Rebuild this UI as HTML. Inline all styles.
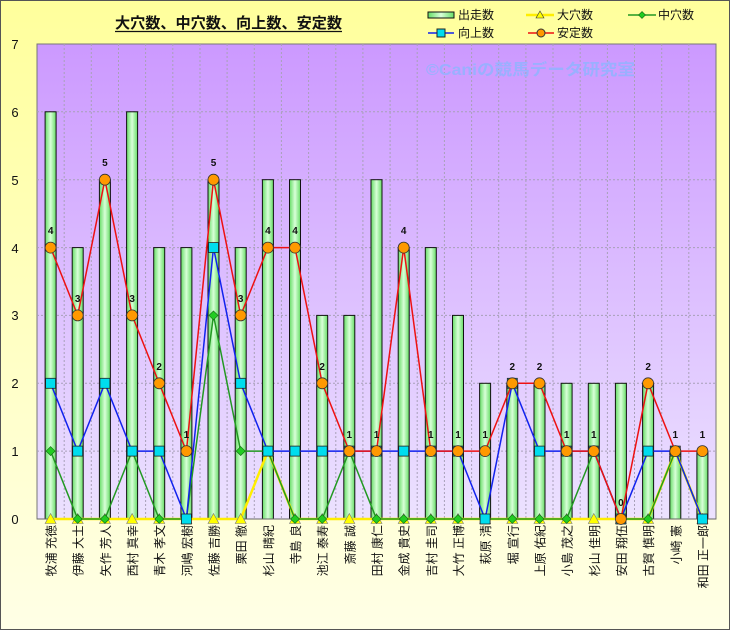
<!DOCTYPE html>
<html><head><meta charset="utf-8">
<style>
html,body{margin:0;padding:0;background:#fff}
svg{display:block;font-family:"Liberation Sans","Noto Sans CJK JP",sans-serif}
</style></head><body>
<svg width="730" height="630" viewBox="0 0 730 630" xmlns="http://www.w3.org/2000/svg">
<defs>
<linearGradient id="bg" x1="0" y1="0" x2="0" y2="1"><stop offset="0" stop-color="#ffff9c"/><stop offset="1" stop-color="#ffffe6"/></linearGradient>
<linearGradient id="pa" x1="0" y1="0" x2="0" y2="1"><stop offset="0" stop-color="#cc99ff"/><stop offset="1" stop-color="#ece2ff"/></linearGradient>
<linearGradient id="bar" x1="0" y1="0" x2="1" y2="0"><stop offset="0" stop-color="#66dd66"/><stop offset="0.5" stop-color="#d8ffd8"/><stop offset="1" stop-color="#66dd66"/></linearGradient>
<marker id="mt" markerUnits="userSpaceOnUse" markerWidth="14" markerHeight="14" refX="7" refY="7" overflow="visible"><path d="M7,1.5 L12.5,11.5 L1.5,11.5Z" fill="#ffff00" stroke="#777" stroke-width="0.6"/></marker>
<marker id="md" markerUnits="userSpaceOnUse" markerWidth="14" markerHeight="14" refX="7" refY="7" overflow="visible"><path d="M7,2.5 L11.5,7 L7,11.5 L2.5,7Z" fill="#22cc22" stroke="#116611" stroke-width="0.6"/></marker>
<marker id="ms" markerUnits="userSpaceOnUse" markerWidth="14" markerHeight="14" refX="7" refY="7" overflow="visible"><rect x="2" y="2" width="10" height="10" fill="#00ddee" stroke="#222" stroke-width="0.8"/></marker>
<marker id="mc" markerUnits="userSpaceOnUse" markerWidth="14" markerHeight="14" refX="7" refY="7" overflow="visible"><circle cx="7" cy="7" r="5.5" fill="#ff9900" stroke="#333" stroke-width="0.8"/></marker>
</defs>
<rect x="0.5" y="0.5" width="729" height="629" fill="url(#bg)" stroke="#555"/>
<rect x="37" y="44" width="679" height="475" fill="url(#pa)" stroke="#777"/>
<g stroke="#a8a0b8" stroke-width="1" stroke-dasharray="2,2">
<line x1="64.2" y1="44" x2="64.2" y2="519"/><line x1="91.3" y1="44" x2="91.3" y2="519"/><line x1="118.5" y1="44" x2="118.5" y2="519"/><line x1="145.6" y1="44" x2="145.6" y2="519"/><line x1="172.8" y1="44" x2="172.8" y2="519"/><line x1="200" y1="44" x2="200" y2="519"/><line x1="227.1" y1="44" x2="227.1" y2="519"/><line x1="254.3" y1="44" x2="254.3" y2="519"/><line x1="281.4" y1="44" x2="281.4" y2="519"/><line x1="308.6" y1="44" x2="308.6" y2="519"/><line x1="335.8" y1="44" x2="335.8" y2="519"/><line x1="362.9" y1="44" x2="362.9" y2="519"/><line x1="390.1" y1="44" x2="390.1" y2="519"/><line x1="417.2" y1="44" x2="417.2" y2="519"/><line x1="444.4" y1="44" x2="444.4" y2="519"/><line x1="471.6" y1="44" x2="471.6" y2="519"/><line x1="498.7" y1="44" x2="498.7" y2="519"/><line x1="525.9" y1="44" x2="525.9" y2="519"/><line x1="553" y1="44" x2="553" y2="519"/><line x1="580.2" y1="44" x2="580.2" y2="519"/><line x1="607.4" y1="44" x2="607.4" y2="519"/><line x1="634.5" y1="44" x2="634.5" y2="519"/><line x1="661.7" y1="44" x2="661.7" y2="519"/><line x1="688.8" y1="44" x2="688.8" y2="519"/>
<line x1="37" y1="111.8" x2="716" y2="111.8"/><line x1="37" y1="179.7" x2="716" y2="179.7"/><line x1="37" y1="247.6" x2="716" y2="247.6"/><line x1="37" y1="315.4" x2="716" y2="315.4"/><line x1="37" y1="383.3" x2="716" y2="383.3"/><line x1="37" y1="451.1" x2="716" y2="451.1"/>
</g>
<text x="426" y="75" font-size="16" font-weight="bold" fill="#9ab0ff" textLength="209" lengthAdjust="spacingAndGlyphs">©Caniの競馬データ研究室</text>
<g fill="url(#bar)" stroke="#111" stroke-width="1">
<rect x="45.1" y="111.8" width="11" height="407.2"/><rect x="72.2" y="247.6" width="11" height="271.4"/><rect x="99.4" y="179.7" width="11" height="339.3"/><rect x="126.6" y="111.8" width="11" height="407.2"/><rect x="153.7" y="247.6" width="11" height="271.4"/><rect x="180.9" y="247.6" width="11" height="271.4"/><rect x="208" y="179.7" width="11" height="339.3"/><rect x="235.2" y="247.6" width="11" height="271.4"/><rect x="262.4" y="179.7" width="11" height="339.3"/><rect x="289.5" y="179.7" width="11" height="339.3"/><rect x="316.7" y="315.4" width="11" height="203.6"/><rect x="343.8" y="315.4" width="11" height="203.6"/><rect x="371" y="179.7" width="11" height="339.3"/><rect x="398.2" y="247.6" width="11" height="271.4"/><rect x="425.3" y="247.6" width="11" height="271.4"/><rect x="452.5" y="315.4" width="11" height="203.6"/><rect x="479.6" y="383.3" width="11" height="135.7"/><rect x="506.8" y="383.3" width="11" height="135.7"/><rect x="534" y="383.3" width="11" height="135.7"/><rect x="561.1" y="383.3" width="11" height="135.7"/><rect x="588.3" y="383.3" width="11" height="135.7"/><rect x="615.4" y="383.3" width="11" height="135.7"/><rect x="642.6" y="383.3" width="11" height="135.7"/><rect x="669.8" y="451.1" width="11" height="67.9"/><rect x="696.9" y="451.1" width="11" height="67.9"/>
</g>
<line x1="37" y1="519" x2="716" y2="519" stroke="#666"/>
<g fill="none" stroke-width="1.5" stroke-linejoin="round">
<polyline stroke="#ffee00" stroke-width="2.5" marker-start="url(#mt)" marker-mid="url(#mt)" marker-end="url(#mt)" points="50.6,519 77.7,519 104.9,519 132.1,519 159.2,519 186.4,519 213.5,519 240.7,519 267.9,451.1 295,519 322.2,519 349.3,519 376.5,519 403.7,519 430.8,519 458,519 485.1,519 512.3,519 539.5,519 566.6,519 593.8,519 620.9,519 648.1,519 675.3,451.1 702.4,519"/>
<polyline stroke="#229922" marker-start="url(#md)" marker-mid="url(#md)" marker-end="url(#md)" points="50.6,451.1 77.7,519 104.9,519 132.1,451.1 159.2,519 186.4,519 213.5,315.4 240.7,451.1 267.9,451.1 295,519 322.2,519 349.3,451.1 376.5,519 403.7,519 430.8,519 458,519 485.1,519 512.3,519 539.5,519 566.6,519 593.8,451.1 620.9,519 648.1,519 675.3,451.1 702.4,519"/>
<polyline stroke="#1122ee" marker-start="url(#ms)" marker-mid="url(#ms)" marker-end="url(#ms)" points="50.6,383.3 77.7,451.1 104.9,383.3 132.1,451.1 159.2,451.1 186.4,519 213.5,247.6 240.7,383.3 267.9,451.1 295,451.1 322.2,451.1 349.3,451.1 376.5,451.1 403.7,451.1 430.8,451.1 458,451.1 485.1,519 512.3,383.3 539.5,451.1 566.6,451.1 593.8,451.1 620.9,519 648.1,451.1 675.3,451.1 702.4,519"/>
<polyline stroke="#ee1111" marker-start="url(#mc)" marker-mid="url(#mc)" marker-end="url(#mc)" points="50.6,247.6 77.7,315.4 104.9,179.7 132.1,315.4 159.2,383.3 186.4,451.1 213.5,179.7 240.7,315.4 267.9,247.6 295,247.6 322.2,383.3 349.3,451.1 376.5,451.1 403.7,247.6 430.8,451.1 458,451.1 485.1,451.1 512.3,383.3 539.5,383.3 566.6,451.1 593.8,451.1 620.9,519 648.1,383.3 675.3,451.1 702.4,451.1"/>
</g>
<g font-size="10" font-weight="bold" text-anchor="middle" fill="#111">
<text x="50.6" y="234">4</text><text x="77.7" y="302">3</text><text x="104.9" y="166">5</text><text x="132.1" y="302">3</text><text x="159.2" y="370">2</text><text x="186.4" y="438">1</text><text x="213.5" y="166">5</text><text x="240.7" y="302">3</text><text x="267.9" y="234">4</text><text x="295" y="234">4</text><text x="322.2" y="370">2</text><text x="349.3" y="438">1</text><text x="376.5" y="438">1</text><text x="403.7" y="234">4</text><text x="430.8" y="438">1</text><text x="458" y="438">1</text><text x="485.1" y="438">1</text><text x="512.3" y="370">2</text><text x="539.5" y="370">2</text><text x="566.6" y="438">1</text><text x="593.8" y="438">1</text><text x="620.9" y="506">0</text><text x="648.1" y="370">2</text><text x="675.3" y="438">1</text><text x="702.4" y="438">1</text>
</g>
<g font-size="13" text-anchor="middle" fill="#111">
<text x="15" y="49">7</text><text x="15" y="117">6</text><text x="15" y="185">5</text><text x="15" y="253">4</text><text x="15" y="320">3</text><text x="15" y="388">2</text><text x="15" y="456">1</text><text x="15" y="524">0</text>
</g>
<g font-size="12" text-anchor="end" fill="#111">
<text transform="translate(55.6,525) rotate(-90)">牧浦 充徳</text>
<text transform="translate(82.7,525) rotate(-90)">伊藤 大士</text>
<text transform="translate(109.9,525) rotate(-90)">矢作 芳人</text>
<text transform="translate(137.1,525) rotate(-90)">西村 真幸</text>
<text transform="translate(164.2,525) rotate(-90)">青木 孝文</text>
<text transform="translate(191.4,525) rotate(-90)">河嶋 宏樹</text>
<text transform="translate(218.5,525) rotate(-90)">佐藤 吉勝</text>
<text transform="translate(245.7,525) rotate(-90)">栗田 徹</text>
<text transform="translate(272.9,525) rotate(-90)">杉山 晴紀</text>
<text transform="translate(300,525) rotate(-90)">寺島 良</text>
<text transform="translate(327.2,525) rotate(-90)">池江 泰寿</text>
<text transform="translate(354.3,525) rotate(-90)">斎藤 誠</text>
<text transform="translate(381.5,525) rotate(-90)">田村 康仁</text>
<text transform="translate(408.7,525) rotate(-90)">金成 貴史</text>
<text transform="translate(435.8,525) rotate(-90)">吉村 圭司</text>
<text transform="translate(463,525) rotate(-90)">大竹 正博</text>
<text transform="translate(490.1,525) rotate(-90)">萩原 清</text>
<text transform="translate(517.3,525) rotate(-90)">堀 宣行</text>
<text transform="translate(544.5,525) rotate(-90)">上原 佑紀</text>
<text transform="translate(571.6,525) rotate(-90)">小島 茂之</text>
<text transform="translate(598.8,525) rotate(-90)">杉山 佳明</text>
<text transform="translate(625.9,525) rotate(-90)">安田 翔伍</text>
<text transform="translate(653.1,525) rotate(-90)">古賀 慎明</text>
<text transform="translate(680.3,525) rotate(-90)">小崎 憲</text>
<text transform="translate(707.4,525) rotate(-90)">和田 正一郎</text>
</g>
<text x="115" y="28" font-size="15" font-weight="bold" fill="#111" textLength="227" lengthAdjust="spacingAndGlyphs">大穴数、中穴数、向上数、安定数</text>
<line x1="115" y1="31.5" x2="342" y2="31.5" stroke="#111" stroke-width="1.2"/>
<g font-size="12" fill="#111">
<rect x="428" y="12" width="26" height="6" fill="url(#bar)" stroke="#111"/>
<text x="458" y="19">出走数</text>
<line x1="526" y1="15" x2="554" y2="15" stroke="#ffee00" stroke-width="2.5"/>
<path d="M540,11 L544,18 L536,18Z" fill="#ffff00" stroke="#333" stroke-width="0.6"/>
<text x="557" y="19">大穴数</text>
<line x1="628" y1="15" x2="656" y2="15" stroke="#229922" stroke-width="1.5"/>
<path d="M642,11.5 L645.5,15 L642,18.5 L638.5,15Z" fill="#22cc22" stroke="#116611" stroke-width="0.6"/>
<text x="658" y="19">中穴数</text>
<line x1="428" y1="33" x2="454" y2="33" stroke="#1122ee" stroke-width="1.5"/>
<rect x="437" y="29" width="8" height="8" fill="#00ddee" stroke="#222"/>
<text x="458" y="37">向上数</text>
<line x1="528" y1="33" x2="554" y2="33" stroke="#ee1111" stroke-width="1.5"/>
<circle cx="541" cy="33" r="4" fill="#ff9900" stroke="#333"/>
<text x="557" y="37">安定数</text>
</g>
</svg>
</body></html>
